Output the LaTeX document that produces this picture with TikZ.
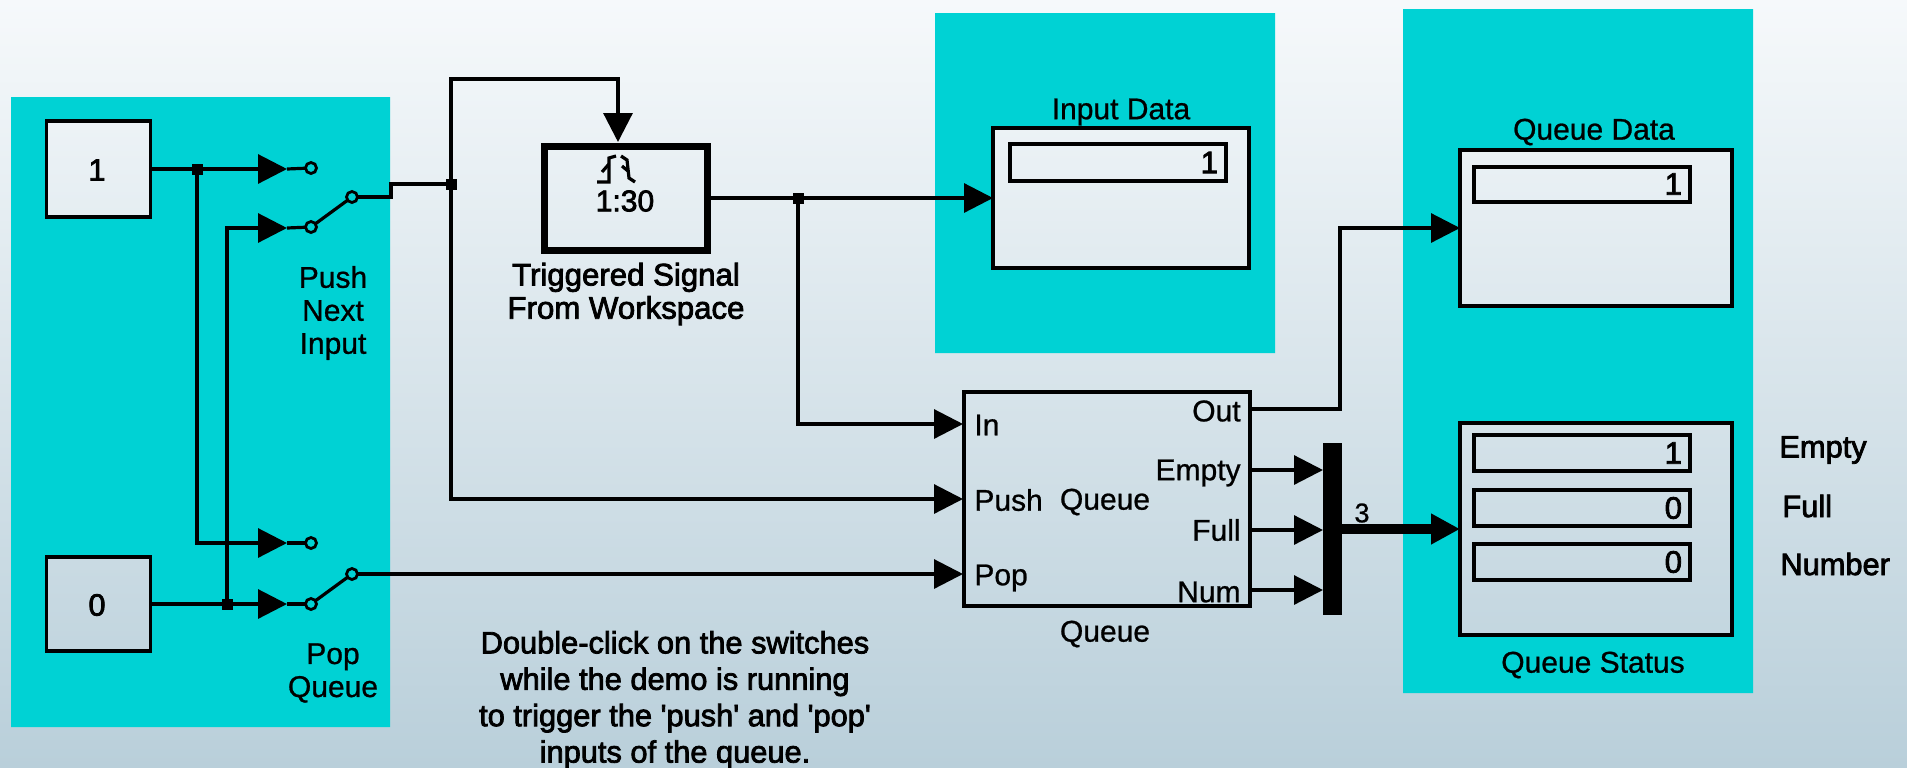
\documentclass[tikz,border=0pt]{standalone}
\usepackage{fontspec}
\setmainfont{Liberation Sans}
\newfontfamily\plainfont[FakeBold=0.8]{Liberation Sans}
\newfontfamily\heavyfont[FakeBold=2.5]{Liberation Sans}
\usetikzlibrary{arrows.meta, positioning, backgrounds}
\definecolor{panelCyan}{HTML}{00D2D4}
\definecolor{skyTop}{HTML}{F6F9FB}
\definecolor{skyMid}{HTML}{DFE7EE}
\definecolor{skyBot}{HTML}{B9CFDA}
\tikzset{
  wire/.style={line width=1.6pt, black},
  wireT/.style={wire, -{Triangle[length=14.5pt,width=14.5pt]}},
  busT/.style={line width=4.8pt, black, -{Triangle[length=14.5pt,width=14.5pt]}},
  blockA/.style={rectangle, draw=black, line width=1.8pt, outer sep=0pt, inner sep=0pt},
  dotJ/.style={rectangle, fill=black, minimum size=5.5pt, inner sep=0pt, outer sep=0pt},
  contact/.style={circle, draw=black, line width=1.4pt, minimum size=5.5pt, inner sep=0pt, outer sep=0pt},
  dispBox/.style={rectangle, draw=black, line width=2pt, outer sep=0pt, inner ysep=0pt, inner xsep=4pt,
                  text width=100pt, align=right, minimum height=17.5pt, font=\fontsize{15.5}{16}\heavyfont},
  scopeBox/.style={blockA, minimum width=136pt},
  lbl/.style={inner sep=0pt, font=\fontsize{15}{16.5}\plainfont, align=center},
  lblH/.style={inner sep=0pt, font=\fontsize{15.4}{18.2}\heavyfont, align=center},
}
\begin{document}
\begin{tikzpicture}[x=0.5pt, y=-0.5pt]
  \useasboundingbox (0,0) rectangle (1907,767);
  % sources and switches
  \node[blockA, minimum width=52pt, minimum height=48pt] (src1) at (98.5,169) {};
  \node[blockA, minimum width=52pt, minimum height=47pt] (src0) at (98.5,604) {};
  \node[lblH] (src1T) at (97,170) {1};
  \node[lblH] (src0T) at (97,605) {0};
  \node[dotJ] (jA) at (197,169) {};
  \node[dotJ] (jB) at (227,604) {};
  \node[dotJ] (jC) at (451,184) {};
  \node[dotJ] (jD) at (798,198) {};
  \node[contact] (aPush) at (311,168) {};
  \node[contact] (bPush) at (311,227) {};
  \node[contact] (oPush) at (352,197) {};
  \node[contact] (aPop) at (311,543) {};
  \node[contact] (bPop) at (311,604) {};
  \node[contact] (oPop) at (352,574) {};
  \coordinate (tA) at (287,169);
  \coordinate (tB) at (287,228);
  \coordinate (tC) at (287,543);
  \coordinate (tD) at (287,604);
  \coordinate (stepA) at (391,197);
  \node[lbl] (pushT) at (333,313) {Push\\Next\\Input};
  \node[lbl] (popT) at (333,673) {Pop\\Queue};
  % triggered source
  \node[blockA, line width=3.5pt, minimum width=81.5pt, minimum height=52pt] (tsw) at (626,198) {};
  \node[lblH, font=\fontsize{15}{16}\heavyfont] (tswT) at (625,201) {1:30};
  \node[lblH, font=\fontsize{15.6}{16.6}\heavyfont] (tswL) at (626,294) {Triggered Signal\\From Workspace};
  \coordinate (trigIn) at (618,142);
  \coordinate (turnA) at (618,79);
  \draw[line width=1.6pt] (597,182) -- (609,182) -- (609,158) -- (616,156);
  \draw[line width=1.6pt] (602,172) -- (609,164);
  \draw[line width=1.6pt] (621,156) -- (627,160) -- (629,178) -- (635,182);
  \draw[line width=1.6pt] (622,166) -- (628,171);
  % queue block
  \node[blockA, minimum width=143pt, minimum height=107pt] (queue) at (1107,499) {};
  \coordinate (qIn) at (963,424);
  \coordinate (qPush) at (963,499);
  \coordinate (qPop) at (963,574);
  \coordinate (qOut) at (1250,409);
  \coordinate (qEmpty) at (1250,470);
  \coordinate (qFull) at (1250,530);
  \coordinate (qNum) at (1250,590);
  \coordinate (turnB) at (1340,228);
  \node[lbl, anchor=west] (inT) at (974,425) {In};
  \node[lbl, anchor=west] (pushP) at (974,500) {Push};
  \node[lbl, anchor=west] (popP) at (974,578) {Pop};
  \node[lbl, anchor=east] (outT) at (1241,411) {Out};
  \node[lbl, anchor=east] (emptyT) at (1241,473) {Empty};
  \node[lbl, anchor=east] (fullT) at (1241,530) {Full};
  \node[lbl, anchor=east] (numT) at (1241,592) {Num};
  \node[lbl] (qMid) at (1105,502) {Queue};
  \node[lbl] (qLabel) at (1105,634) {Queue};
  \node[rectangle, fill=black, minimum width=9.5pt, minimum height=86pt, inner sep=0pt, outer sep=0pt] (mux) at (1332.5,529) {};
  \node[lbl, font=\fontsize{13.5}{14}\plainfont] (busN) at (1362,513) {3};
  % scopes
  \node[scopeBox, minimum width=128pt, minimum height=70pt] (inData) at (1121,198) {};
  \node[dispBox, minimum height=18.5pt] (inDisp) at (1118,162.5) {1};
  \node[lbl] (inDataT) at (1121,112) {Input Data};
  \node[scopeBox, minimum height=78pt] (qData) at (1596,228) {};
  \node[dispBox] (qDisp) at (1582,184) {1};
  \node[lbl] (qDataT) at (1594,132) {Queue Data};
  \node[scopeBox, minimum height=106pt] (qStat) at (1596,529) {};
  \node[dispBox, minimum height=18pt] (sA) at (1582,453) {1};
  \node[dispBox, minimum height=18pt] (sB) at (1582,508) {0};
  \node[dispBox, minimum height=18pt] (sC) at (1582,562) {0};
  \node[lbl] (qStatT) at (1593,665) {Queue Status};
  \node[lblH, anchor=west] (eT) at (1779,450) {Empty};
  \node[lblH, anchor=west] (fT) at (1782,506) {Full};
  \node[lblH, anchor=west] (nT) at (1780,564) {Number};
  \node[lblH] (noteT) at (675,700) {Double-click on the switches\\while the demo is running\\to trigger the 'push' and 'pop'\\inputs of the queue.};
  % connectors
  \draw[wire] (src1.east |- jA) -- (jA);
  \draw[wireT] (jA) -- (tA);
  \draw[wireT] (jA) |- (tC);
  \draw[wire] (src0.east |- jB) -- (jB);
  \draw[wireT] (jB) -- (tD);
  \draw[wireT] (jB) |- (tB);
  \draw[wire] (tA) -- (aPush);
  \draw[wire] (tB) -- (bPush);
  \draw[wire] (tC) -- (aPop);
  \draw[wire] (tD) -- (bPop);
  \draw[wire] (bPush) -- (oPush);
  \draw[wire] (bPop) -- (oPop);
  \draw[wire] (oPush) -- (stepA) |- (jC);
  \draw[wireT] (jC) |- (turnA) -- (trigIn);
  \draw[wireT] (jC) |- (qPush);
  \draw[wireT] (oPop) -- (qPop);
  \draw[wire] (tsw.east) -- (jD);
  \draw[wireT] (jD) -- (inData.west);
  \draw[wireT] (jD) |- (qIn);
  \draw[wireT] (qOut) -| (turnB) -- (qData.west);
  \draw[wireT] (qEmpty) -- (qEmpty -| mux.west);
  \draw[wireT] (qFull) -- (qFull -| mux.west);
  \draw[wireT] (qNum) -- (qNum -| mux.west);
  \draw[busT] (mux.east) -- (qStat.west);
  \begin{scope}[on background layer]
    \shade[top color=skyTop, middle color=skyMid, bottom color=skyBot] (0,0) rectangle (1907,767);
    \fill[panelCyan, even odd rule] (11,97) rectangle (390,727)
      (src1.south west) rectangle (src1.north east)
      (src0.south west) rectangle (src0.north east);
    \fill[panelCyan, even odd rule] (935,13) rectangle (1275,353)
      (inData.south west) rectangle (inData.north east);
    \fill[panelCyan, even odd rule] (1403,9) rectangle (1753,693)
      (qData.south west) rectangle (qData.north east)
      (qStat.south west) rectangle (qStat.north east);
  \end{scope}
\end{tikzpicture}
\end{document}
